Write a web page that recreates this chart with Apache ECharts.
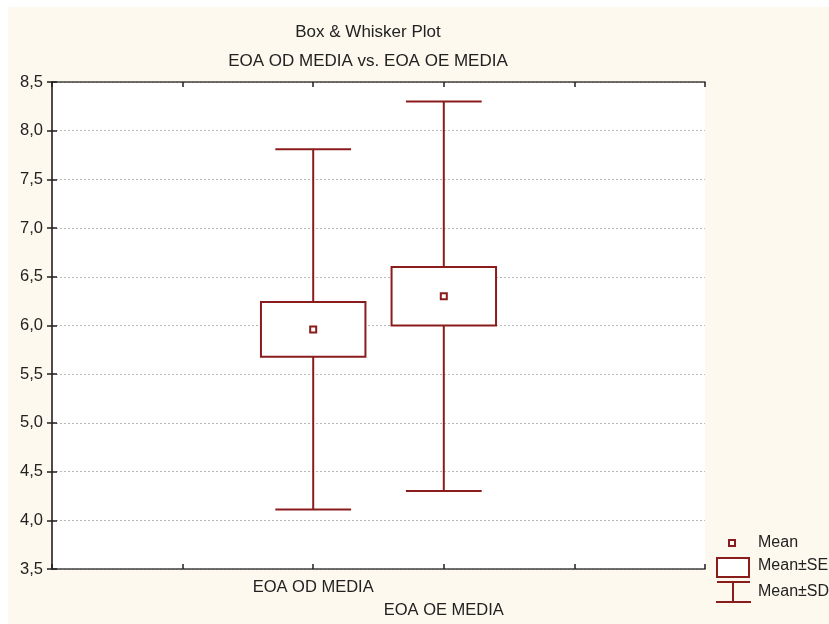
<!DOCTYPE html>
<html>
<head>
<meta charset="utf-8">
<script src="https://cdn.jsdelivr.net/npm/echarts@6/dist/echarts.min.js"></script>
<style>
  html, body { margin: 0; padding: 0; background: #fff; }
  #chart { width: 829px; height: 624px; }
</style>
</head>
<body>
<div id="chart"></div>
<script>
  // variables and their summary stats
  var categories = ['EOA OD MEDIA', 'EOA OE MEDIA'];
  var means = [5.96, 6.30];
  var se = [0.28, 0.30];
  var sd = [1.85, 2.00];
  var yTicks = [3.5, 4.0, 4.5, 5.0, 5.5, 6.0, 6.5, 7.0, 7.5, 8.0, 8.5];

  var red = '#8b1c1c';
  var font = 'Liberation Sans, Arial, sans-serif';

  // each variable sits on a tick, two empty slots to the left
  var seriesData = categories.map(function (c, i) {
    return [i + 2, means[i], se[i], sd[i]];
  });

  function renderBox(params, api) {
    var x = api.value(0), m = api.value(1), s = api.value(2), d = api.value(3);
    var unit = api.size([1, 0])[0];
    var c = api.coord([x, m]);
    var top = api.coord([x, m + s])[1];
    var bot = api.coord([x, m - s])[1];
    var wTop = api.coord([x, m + d])[1];
    var wBot = api.coord([x, m - d])[1];
    var bw = unit * 0.8, cw = unit * 0.58;
    var st = { stroke: red, lineWidth: 2, fill: null };
    return {
      type: 'group',
      children: [
        { type: 'line', shape: { x1: c[0], y1: wTop, x2: c[0], y2: top }, style: st },
        { type: 'line', shape: { x1: c[0], y1: bot, x2: c[0], y2: wBot }, style: st },
        { type: 'line', shape: { x1: c[0] - cw / 2, y1: wTop, x2: c[0] + cw / 2, y2: wTop }, style: st },
        { type: 'line', shape: { x1: c[0] - cw / 2, y1: wBot, x2: c[0] + cw / 2, y2: wBot }, style: st },
        { type: 'rect', shape: { x: c[0] - bw / 2, y: top, width: bw, height: bot - top }, style: { stroke: red, lineWidth: 2, fill: '#fff' } },
        { type: 'rect', shape: { x: c[0] - 3, y: c[1] - 3, width: 6, height: 6 }, style: { stroke: red, lineWidth: 2, fill: '#fff' } }
      ]
    };
  }

  var frameAxis = {
    axisLine: { show: true, lineStyle: { color: '#404040', width: 1.5 } },
    axisTick: { show: true, inside: true, length: 5, lineStyle: { color: '#202020', width: 1.5 } },
    splitLine: { show: false }
  };

  var chart = echarts.init(document.getElementById('chart'));
  var option = {
    backgroundColor: 'transparent',
    animation: false,
    graphic: [
      { type: 'rect', z: -10, silent: true, shape: { x: 8, y: 7, width: 821, height: 617 }, style: { fill: '#fdf9ee' } },
      { type: 'rect', z: -9, silent: true, shape: { x: 52, y: 82, width: 653, height: 487 }, style: { fill: '#fff' } },
      // legend
      { type: 'rect', shape: { x: 729, y: 540, width: 6, height: 6 }, style: { stroke: red, lineWidth: 2, fill: '#fff' } },
      { type: 'text', left: 758, top: 535, style: { text: 'Mean', font: '16px ' + font, fill: '#222' } },
      { type: 'rect', shape: { x: 717, y: 558, width: 32, height: 19 }, style: { stroke: red, lineWidth: 2, fill: '#fff' } },
      { type: 'text', left: 758, top: 558, style: { text: 'Mean±SE', font: '16px ' + font, fill: '#222' } },
      { type: 'line', shape: { x1: 717, y1: 582, x2: 750, y2: 582 }, style: { stroke: red, lineWidth: 2 } },
      { type: 'line', shape: { x1: 733, y1: 582, x2: 733, y2: 602 }, style: { stroke: red, lineWidth: 2 } },
      { type: 'line', shape: { x1: 716, y1: 602, x2: 751, y2: 602 }, style: { stroke: red, lineWidth: 2 } },
      { type: 'text', left: 758, top: 584, style: { text: 'Mean±SD', font: '16px ' + font, fill: '#222' } }
    ],
    title: [
      { text: 'Box & Whisker Plot', left: 363, top: 19, textAlign: 'center',
        textStyle: { fontFamily: font, fontSize: 17, fontWeight: 'normal', color: '#222' } },
      { text: 'EOA OD MEDIA vs. EOA OE MEDIA', left: 363, top: 48, textAlign: 'center',
        textStyle: { fontFamily: font, fontSize: 17, fontWeight: 'normal', color: '#222' } }
    ],
    grid: { left: 52, top: 82, right: 124, bottom: 55 },
    xAxis: [
      Object.assign({
        type: 'value', min: 0, max: categories.length + 3, interval: 1, position: 'bottom',
        axisLabel: {
          margin: 10,
          formatter: function (v) {
            var i = v - 2;
            if (i === 0) return '{a|' + categories[0] + '}';
            if (i === 1) return '{b|' + categories[1] + '}';
            return '';
          },
          rich: {
            a: { fontFamily: font, fontSize: 16.5, color: '#222' },
            b: { fontFamily: font, fontSize: 16.5, color: '#222', padding: [23, 0, 0, 0] }
          }
        }
      }, frameAxis),
      Object.assign({
        type: 'value', min: 0, max: categories.length + 3, interval: 1, position: 'top',
        axisLabel: { show: false }
      }, frameAxis)
    ],
    yAxis: [
      {
        type: 'value', min: yTicks[0], max: yTicks[yTicks.length - 1], interval: 0.5, position: 'left',
        axisLine: { show: true, lineStyle: { color: '#404040', width: 1.5 } },
        axisTick: { show: true, inside: true, length: 5, lineStyle: { color: '#202020', width: 1.5 } },
        splitLine: { show: true, lineStyle: { color: '#b8b8b8', type: [2, 2], width: 1 } },
        axisLabel: {
          margin: 9, fontFamily: font, fontSize: 16.5, color: '#222',
          formatter: function (v) { return v.toFixed(1).replace('.', ','); }
        }
      },
      Object.assign({
        type: 'value', min: yTicks[0], max: yTicks[yTicks.length - 1], interval: 0.5, position: 'right',
        axisLabel: { show: false }
      }, frameAxis)
    ],
    series: [{
      type: 'custom',
      renderItem: renderBox,
      encode: { x: 0, y: [1] },
      data: seriesData,
      clip: false
    }]
  };
  chart.setOption(option);
</script>
</body>
</html>
